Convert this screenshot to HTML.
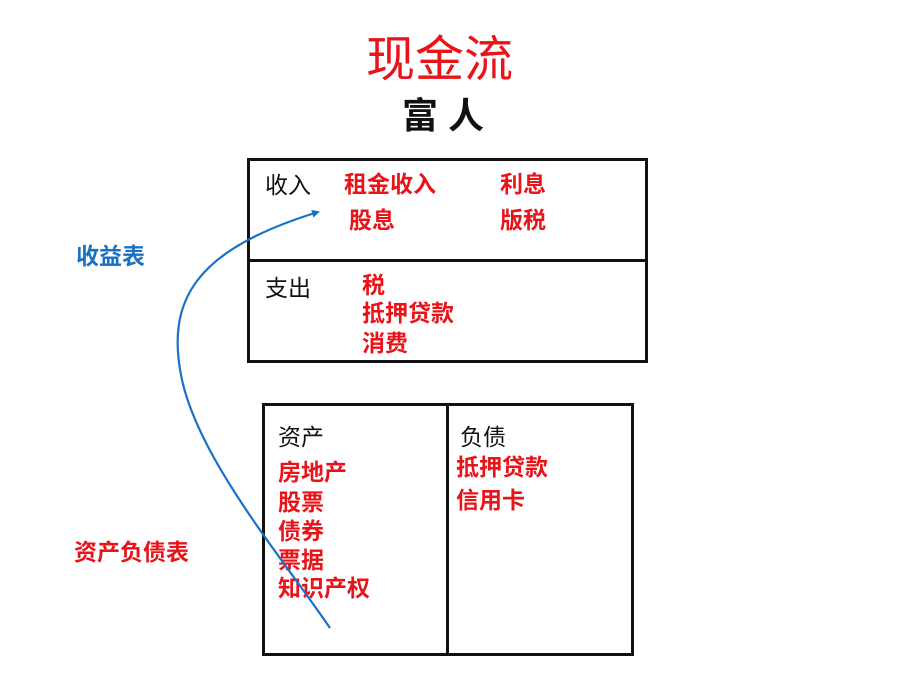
<!DOCTYPE html>
<html><head><meta charset="utf-8"><style>
body{margin:0;background:#fff;}
#c{position:relative;width:904px;height:680px;overflow:hidden;font-family:"Liberation Sans","Noto Sans CJK SC",sans-serif;}
.t{position:absolute;white-space:nowrap;line-height:1;font-size:23px;}
.r{color:#e8141a;font-weight:bold;}
.k{color:#111;}
.box{position:absolute;border:3px solid #111;box-sizing:border-box;}
</style></head><body><div id="c">
<div class="t" style="left:366px;top:36px;font-size:49px;color:#e8141a;">现金流</div>
<div class="t" style="left:402px;top:98px;font-size:36px;font-weight:bold;letter-spacing:10px;color:#111;">富人</div>

<div class="box" style="left:247px;top:158px;width:401px;height:205px;"></div>
<div style="position:absolute;left:247px;top:259px;width:401px;height:3px;background:#111;"></div>
<div class="box" style="left:262px;top:403px;width:372px;height:253px;"></div>
<div style="position:absolute;left:446px;top:403px;width:3px;height:253px;background:#111;"></div>

<div class="t k" style="left:265px;top:174px;">收入</div>
<div class="t r" style="left:344px;top:173px;">租金收入</div>
<div class="t r" style="left:500px;top:173px;">利息</div>
<div class="t r" style="left:349px;top:209px;">股息</div>
<div class="t r" style="left:500px;top:209px;">版税</div>
<div class="t k" style="left:265px;top:277px;">支出</div>
<div class="t r" style="left:362px;top:274px;">税</div>
<div class="t r" style="left:362px;top:302px;">抵押贷款</div>
<div class="t r" style="left:362px;top:332px;">消费</div>

<div class="t" style="left:76px;top:245px;color:#1a72c4;font-weight:bold;">收益表</div>
<div class="t r" style="left:74px;top:541px;">资产负债表</div>

<div class="t k" style="left:278px;top:426px;">资产</div>
<div class="t r" style="left:278px;top:461px;">房地产</div>
<div class="t r" style="left:278px;top:491px;">股票</div>
<div class="t r" style="left:278px;top:520px;">债券</div>
<div class="t r" style="left:278px;top:549px;">票据</div>
<div class="t r" style="left:278px;top:577px;">知识产权</div>
<div class="t k" style="left:460px;top:426px;">负债</div>
<div class="t r" style="left:456px;top:456px;">抵押贷款</div>
<div class="t r" style="left:456px;top:489px;">信用卡</div>

<svg width="904" height="680" style="position:absolute;left:0;top:0;">
<defs><marker id="a" markerWidth="8" markerHeight="8" refX="6" refY="4" orient="auto" markerUnits="userSpaceOnUse"><path d="M0,0 L8,4 L0,8 z" fill="#1a72c4"/></marker></defs>
<path d="M330,628 C280,555 200,460 182,380 C165,300 195,250 318,212" fill="none" stroke="#1a72c4" stroke-width="2.2" marker-end="url(#a)"/>
</svg>
</div></body></html>
